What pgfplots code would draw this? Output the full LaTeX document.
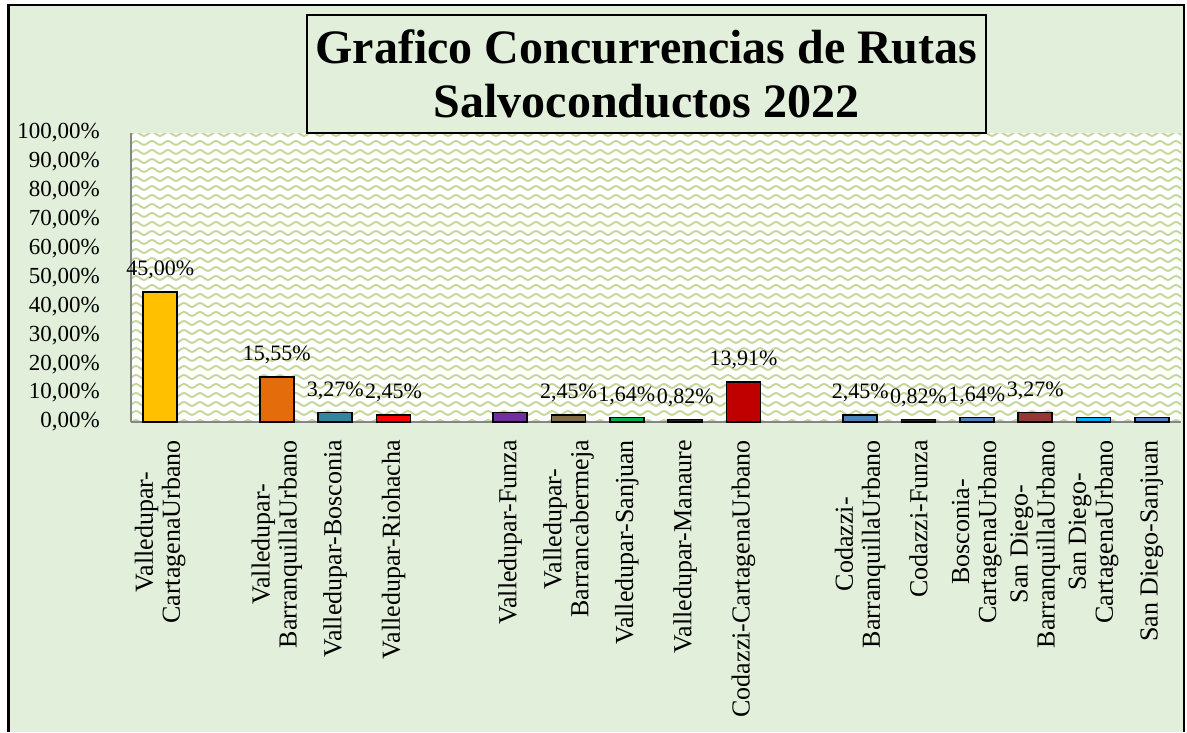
\documentclass[border=0pt]{standalone}
\usepackage{fontspec}
\setmainfont{Liberation Serif}
\usepackage{pgfplots}
\pgfplotsset{compat=1.18}
\usetikzlibrary{patterns}
\definecolor{bgc}{HTML}{E2EFDA}
\definecolor{zz}{HTML}{C4D79B}
\definecolor{axc}{HTML}{868686}
\pgfdeclarepatternformonly{zigzag}{\pgfpoint{-1pt}{-1pt}}{\pgfpoint{17pt}{10pt}}{\pgfpoint{16pt}{9pt}}{%
  \pgfsetlinewidth{1.9pt}%
  \pgfpathmoveto{\pgfpoint{-0.5pt}{2pt}}%
  \pgfpathcurveto{\pgfpoint{3pt}{2pt}}{\pgfpoint{5pt}{6pt}}{\pgfpoint{8pt}{6pt}}%
  \pgfpathcurveto{\pgfpoint{11pt}{6pt}}{\pgfpoint{13pt}{2pt}}{\pgfpoint{16.5pt}{2pt}}%
  \pgfusepath{stroke}%
}
\newcommand{\bbar}[4]{\addplot[ybar, bar width=34pt, bar shift=0pt, fill=#2, draw=black, line width=1.4pt,
  nodes near coords={#4}, every node near coord/.style={anchor=south, inner sep=0pt, yshift=12pt, font=\fontsize{22}{24}\selectfont, text=black}] coordinates {(#1,#3)};}
\begin{document}
\begin{tikzpicture}
\path[use as bounding box] (0,0) rectangle (1187pt,732pt);
\fill[bgc] (8.5pt,0) rectangle (1184pt,727pt);
\draw[black, line width=1.5pt] (8.5pt,0) -- (8.5pt,727pt) -- (1184pt,727pt) -- (1184pt,0);
\draw[black, line width=3pt] (8.5pt,0) -- (8.5pt,727.7pt);
\begin{axis}[
  at={(131pt,310pt)}, anchor=south west,
  scale only axis, width=1050pt, height=289pt,
  xmin=-0.5, xmax=17.5, ymin=0, ymax=100,
  axis lines*=left,
  axis line style={draw=axc, line width=1.5pt},
  axis background/.style={fill=white, postaction={pattern=zigzag, pattern color=zz}},
  ytick={0,10,...,100},
  yticklabel={\pgfmathprintnumber[fixed, fixed zerofill, precision=2, use comma]{\tick}\%},
  /pgf/number format/assume math mode=true,
  yticklabel style={font=\fontsize{23}{25}\selectfont, anchor=east, inner sep=0pt},
  yticklabel shift=31pt,
  major tick length=0pt,
  xtick={0,2,3,4,6,7,8,9,10,12,13,14,15,16,17},
  xticklabels={{Valledupar-\\CartagenaUrbano},{Valledupar-\\BarranquillaUrbano},{Valledupar-Bosconia},{Valledupar-Riohacha},{Valledupar-Funza},{Valledupar-\\Barrancabermeja},{Valledupar-Sanjuan},{Valledupar-Manaure},{Codazzi-CartagenaUrbano},{Codazzi-\\BarranquillaUrbano},{Codazzi-Funza},{Bosconia-\\CartagenaUrbano},{San Diego-\\BarranquillaUrbano},{San Diego-\\CartagenaUrbano},{San Diego-Sanjuan}},
  xticklabel style={rotate=90, anchor=east, align=center, inner sep=0pt, font=\fontsize{26}{27}\selectfont},
  xticklabel shift=18pt,
  clip=false,
]
\bbar{0}{{rgb,255:red,255;green,192;blue,0}}{45.00}{45,00\%}
\bbar{2}{{rgb,255:red,228;green,108;blue,10}}{15.55}{15,55\%}
\bbar{3}{{rgb,255:red,49;green,133;blue,156}}{3.27}{3,27\%}
\bbar{4}{{rgb,255:red,255;green,0;blue,0}}{2.45}{2,45\%}
\bbar{6}{{rgb,255:red,112;green,48;blue,160}}{3.27}{}
\bbar{7}{{rgb,255:red,128;green,106;blue,72}}{2.45}{2,45\%}
\bbar{8}{{rgb,255:red,0;green,176;blue,80}}{1.64}{1,64\%}
\bbar{9}{{rgb,255:red,38;green,38;blue,38}}{0.82}{0,82\%}
\bbar{10}{{rgb,255:red,192;green,0;blue,0}}{13.91}{13,91\%}
\bbar{12}{{rgb,255:red,79;green,129;blue,189}}{2.45}{2,45\%}
\bbar{13}{{rgb,255:red,38;green,38;blue,38}}{0.82}{0,82\%}
\bbar{14}{{rgb,255:red,79;green,129;blue,189}}{1.64}{1,64\%}
\bbar{15}{{rgb,255:red,149;green,55;blue,53}}{3.27}{3,27\%}
\bbar{16}{{rgb,255:red,0;green,176;blue,240}}{1.64}{}
\bbar{17}{{rgb,255:red,79;green,129;blue,189}}{1.64}{}
\end{axis}
\draw[black, line width=1.5pt, fill=bgc] (307pt,599pt) rectangle (986pt,717pt);
\node[align=center, font=\bfseries\fontsize{48}{54}\selectfont] at (646.5pt,658pt) {Grafico Concurrencias de Rutas\\Salvoconductos 2022};
\end{tikzpicture}
\end{document}
